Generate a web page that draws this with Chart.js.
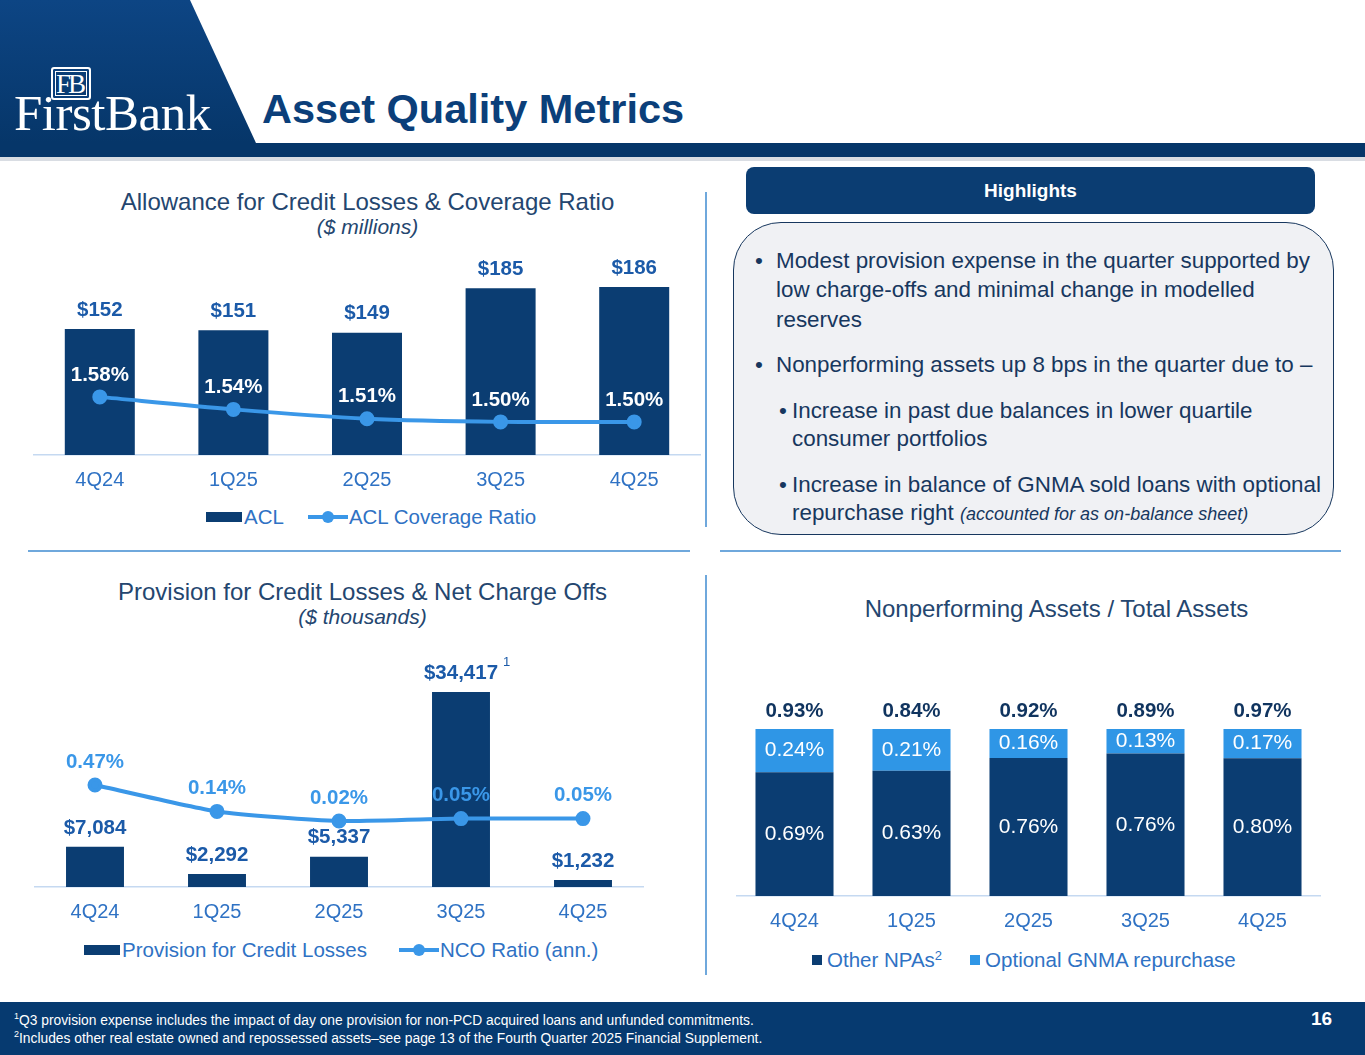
<!DOCTYPE html>
<html>
<head>
<meta charset="utf-8">
<script src="https://cdn.jsdelivr.net/npm/chart.js@4.4.1/dist/chart.umd.min.js"></script>
<style>
  html, body { margin:0; padding:0; }
  body { width:1365px; height:1055px; position:relative; overflow:hidden; background:#fff; font-family:"Liberation Sans", Arial, sans-serif; }
  .abs { position:absolute; }
  canvas { position:absolute; }
  .ctitle { position:absolute; color:#24466F; font-size:24px; text-align:center; white-space:nowrap; }
  .csub { position:absolute; color:#24466F; font-size:21px; font-style:italic; text-align:center; white-space:nowrap; }
  .legend { position:absolute; display:flex; align-items:center; color:#2F72C4; font-size:20.5px; white-space:nowrap; }
  .sw-bar { display:inline-block; width:36px; height:10px; background:#0B3D72; margin-right:2px; }
  .sw-sq { display:inline-block; width:10px; height:10px; margin-right:5px; }
  .sw-line { display:inline-block; position:relative; width:40px; height:4px; background:#3A97E8; margin-right:1px; }
  .sw-line:after { content:""; position:absolute; left:14px; top:-4px; width:12px; height:12px; border-radius:50%; background:#3A97E8; }
  .hl { position:absolute; color:#17375E; font-size:22.4px; line-height:26px; white-space:nowrap; }
  .sep { position:absolute; background:#6FA8DC; }
  .foot { position:absolute; color:#fff; font-size:13.8px; white-space:nowrap; }
</style>
</head>
<body>

<!-- header -->
<svg class="abs" style="left:0;top:0" width="1365" height="165">
  <defs>
    <linearGradient id="hg" x1="0" y1="0" x2="0" y2="1">
      <stop offset="0" stop-color="#0D4584"/>
      <stop offset="1" stop-color="#063669"/>
    </linearGradient>
  </defs>
  <polygon points="0,0 190,0 256,143 0,143" fill="url(#hg)"/>
  <rect x="0" y="143" width="1365" height="14" fill="#063669"/>
  <rect x="0" y="157" width="1365" height="4" fill="#D9DDE3"/>
</svg>
<div class="abs" style="left:51px;top:67px;width:36px;height:29px;border:2px solid #fff;border-radius:3px;box-shadow:inset 0 0 0 2px #0A3F7B, inset 0 0 0 3px #fff;color:#fff;font-family:'Liberation Serif','DejaVu Serif',serif;font-size:27px;line-height:30px;text-align:center;letter-spacing:-3px;text-indent:-3px;">FB</div>
<div class="abs" style="left:14px;top:88px;color:#fff;font-family:'Liberation Serif','DejaVu Serif',serif;font-size:51px;line-height:50px;letter-spacing:-0.5px;">FirstBank</div>
<div class="abs" style="left:262px;top:84px;color:#0B3F7A;font-size:41.5px;font-weight:bold;line-height:50px;">Asset Quality Metrics</div>

<!-- chart 1 -->
<div class="ctitle" style="left:40px;width:655px;top:188px;">Allowance for Credit Losses &amp; Coverage Ratio</div>
<div class="csub" style="left:40px;width:655px;top:215px;">($ millions)</div>
<canvas id="aclChart" width="668" height="255" style="left:33px;top:240px;"></canvas>
<div class="legend" style="left:206px;top:505px;"><span class="sw-bar"></span>ACL<span style="width:24px"></span><span class="sw-line"></span>ACL Coverage Ratio</div>

<!-- chart 2 -->
<div class="ctitle" style="left:40px;width:645px;top:578px;">Provision for Credit Losses &amp; Net Charge Offs</div>
<div class="csub" style="left:40px;width:645px;top:605px;">($ thousands)</div>
<canvas id="provChart" width="610" height="277" style="left:34px;top:650px;"></canvas>
<div class="legend" style="left:84px;top:938px;"><span class="sw-bar"></span>Provision for Credit Losses<span style="width:32px"></span><span class="sw-line"></span>NCO Ratio (ann.)</div>

<!-- chart 3 -->
<div class="ctitle" style="left:730px;width:655px;top:595px;transform:translateX(-1px);">Nonperforming Assets / Total Assets</div>
<canvas id="npaChart" width="585" height="247" style="left:736px;top:689px;"></canvas>
<div class="legend" style="left:812px;top:948px;"><span class="sw-sq" style="background:#0B3D72"></span>Other NPAs<sup style="font-size:13px;position:relative;top:-5px;">2</sup><span style="width:28px"></span><span class="sw-sq" style="background:#2F96E6"></span>Optional GNMA repurchase</div>

<!-- separators -->
<div class="sep" style="left:705px;top:192px;width:1.5px;height:335px;"></div>
<div class="sep" style="left:705px;top:575px;width:1.5px;height:400px;"></div>
<div class="sep" style="left:28px;top:550px;width:662px;height:1.5px;"></div>
<div class="sep" style="left:720px;top:550px;width:621px;height:1.5px;"></div>

<!-- highlights -->
<div class="abs" style="left:746px;top:167px;width:569px;height:47px;background:#0B3D72;border-radius:8px;color:#fff;font-weight:bold;font-size:19px;line-height:47px;text-align:center;">Highlights</div>
<div class="abs" style="left:733px;top:222px;width:599px;height:311px;background:#F0F1F4;border:1.5px solid #17375E;border-radius:48px;"></div>
<div class="hl" style="left:755px;top:248px;">•</div>
<div class="hl" style="left:776px;top:248px;">Modest provision expense in the quarter supported by</div>
<div class="hl" style="left:776px;top:277px;">low charge-offs and minimal change in modelled</div>
<div class="hl" style="left:776px;top:307px;">reserves</div>
<div class="hl" style="left:755px;top:352px;">•</div>
<div class="hl" style="left:776px;top:352px;">Nonperforming assets up 8 bps in the quarter due to –</div>
<div class="hl" style="left:779px;top:398px;">•</div>
<div class="hl" style="left:792px;top:398px;">Increase in past due balances in lower quartile</div>
<div class="hl" style="left:792px;top:426px;">consumer portfolios</div>
<div class="hl" style="left:779px;top:472px;">•</div>
<div class="hl" style="left:792px;top:472px;">Increase in balance of GNMA sold loans with optional</div>
<div class="hl" style="left:792px;top:500px;">repurchase right <i style="font-size:18px;">(accounted for as on-balance sheet)</i></div>

<!-- footer -->
<div class="abs" style="left:0;top:1002px;width:1365px;height:53px;background:#063A70;"></div>
<div class="foot" style="left:14px;top:1011px;"><sup style="font-size:9px;">1</sup>Q3 provision expense includes the impact of day one provision for non-PCD acquired loans and unfunded commitments.</div>
<div class="foot" style="left:14px;top:1029px;"><sup style="font-size:9px;">2</sup>Includes other real estate owned and repossessed assets–see page 13 of the Fourth Quarter 2025 Financial Supplement.</div>
<div class="abs" style="left:1311px;top:1008px;color:#fff;font-weight:bold;font-size:19px;">16</div>

<script>
const quarters = ['4Q24', '1Q25', '2Q25', '3Q25', '4Q25'];

// $ millions
const aclValues = [152, 151, 149, 185, 186];
const aclCoverage = [1.58, 1.54, 1.51, 1.50, 1.50];

// $ thousands
const provisionValues = [7084, 2292, 5337, 34417, 1232];
const ncoRatio = [0.47, 0.14, 0.02, 0.05, 0.05];

// % of total assets
const otherNpa = [0.69, 0.63, 0.76, 0.76, 0.80];
const gnmaRepurchase = [0.24, 0.21, 0.16, 0.13, 0.17];
const npaTotal = [0.93, 0.84, 0.92, 0.89, 0.97];

const NAVY = '#0B3D72';
const LIGHT = '#3A97E8';
const VALUE_BLUE = '#1B5AA8';
const FONT = '"Liberation Sans", Arial, sans-serif';

function xAxis() {
  return {
    grid: { display: false, drawTicks: false },
    border: { color: '#C5D9F1', width: 1.5 },
    ticks: { color: '#2F72C4', font: { family: FONT, size: 20 }, padding: 13 },
    afterFit: (scale) => { scale.height = 40; }
  };
}

function label(ctx, text, x, y, color, font) {
  ctx.save();
  ctx.font = font;
  ctx.fillStyle = color;
  ctx.textAlign = 'center';
  ctx.textBaseline = 'middle';
  ctx.fillText(text, x, y);
  ctx.restore();
}

const baseOptions = {
  responsive: false, animation: false,
  layout: { padding: 0, autoPadding: false },
  plugins: { legend: { display: false }, tooltip: { enabled: false } }
};

// Chart 1 - ACL
new Chart(document.getElementById('aclChart'), {
  type: 'bar',
  data: {
    labels: quarters,
    datasets: [
      { type: 'bar', label: 'ACL', data: aclValues, backgroundColor: NAVY, yAxisID: 'y', order: 2,
        categoryPercentage: 1, barPercentage: 0.524 },
      { type: 'line', label: 'ACL Coverage Ratio', data: aclCoverage, borderColor: LIGHT, backgroundColor: LIGHT,
        borderWidth: 4, pointRadius: 5.5, tension: 0.3, yAxisID: 'y2', order: 1 }
    ]
  },
  options: Object.assign({}, baseOptions, {
    scales: {
      x: xAxis(),
      y: { display: false, min: 50, max: 224 },
      y2: { display: false, min: 1.394, max: 2.082 }
    }
  }),
  plugins: [{
    id: 'aclLabels',
    afterDatasetsDraw(chart) {
      const ctx = chart.ctx;
      chart.getDatasetMeta(0).data.forEach((el, i) => {
        label(ctx, '$' + aclValues[i], el.x, el.y - 19, VALUE_BLUE, 'bold 20.5px ' + FONT);
      });
      chart.getDatasetMeta(1).data.forEach((el, i) => {
        label(ctx, aclCoverage[i].toFixed(2) + '%', el.x, el.y - 22, '#FFFFFF', 'bold 20.5px ' + FONT);
      });
    }
  }]
});

// Chart 2 - Provision & NCO
new Chart(document.getElementById('provChart'), {
  type: 'bar',
  data: {
    labels: quarters,
    datasets: [
      { type: 'bar', label: 'Provision for Credit Losses', data: provisionValues, backgroundColor: NAVY, yAxisID: 'y', order: 2,
        categoryPercentage: 1, barPercentage: 0.475 },
      { type: 'line', label: 'NCO Ratio (ann.)', data: ncoRatio, borderColor: LIGHT, backgroundColor: LIGHT,
        borderWidth: 4, pointRadius: 5.5, tension: 0.2, yAxisID: 'y2', order: 1 }
    ]
  },
  options: Object.assign({}, baseOptions, {
    scales: {
      x: xAxis(),
      y: { display: false, min: 0, max: 41830 },
      y2: { display: false, min: -0.805, max: 2.1575 }
    }
  }),
  plugins: [{
    id: 'provLabels',
    afterDatasetsDraw(chart) {
      const ctx = chart.ctx;
      chart.getDatasetMeta(0).data.forEach((el, i) => {
        const txt = '$' + provisionValues[i].toLocaleString('en-US');
        label(ctx, txt, el.x, el.y - 19, VALUE_BLUE, 'bold 20.5px ' + FONT);
        if (i === 3) {
          ctx.save();
          ctx.font = 'bold 20.5px ' + FONT;
          const w = ctx.measureText(txt).width;
          ctx.font = '13px ' + FONT;
          ctx.fillStyle = VALUE_BLUE;
          ctx.textBaseline = 'middle';
          ctx.fillText('1', el.x + w / 2 + 5, el.y - 30);
          ctx.restore();
        }
      });
      chart.getDatasetMeta(1).data.forEach((el, i) => {
        label(ctx, ncoRatio[i].toFixed(2) + '%', el.x, el.y - 23, LIGHT, 'bold 20.5px ' + FONT);
      });
    }
  }]
});

// Chart 3 - NPAs / total assets (100% stacked)
const otherShare = otherNpa.map((v, i) => v / npaTotal[i] * 100);
const gnmaShare = gnmaRepurchase.map((v, i) => v / npaTotal[i] * 100);

new Chart(document.getElementById('npaChart'), {
  type: 'bar',
  data: {
    labels: quarters,
    datasets: [
      { label: 'Other NPAs', data: otherShare, backgroundColor: NAVY, categoryPercentage: 1, barPercentage: 0.667 },
      { label: 'Optional GNMA repurchase', data: gnmaShare, backgroundColor: '#2F96E6', categoryPercentage: 1, barPercentage: 0.667 }
    ]
  },
  options: Object.assign({}, baseOptions, {
    scales: {
      x: Object.assign(xAxis(), { stacked: true }),
      y: { display: false, stacked: true, min: 0, max: 124 }
    }
  }),
  plugins: [{
    id: 'npaLabels',
    afterDatasetsDraw(chart) {
      const ctx = chart.ctx;
      const m0 = chart.getDatasetMeta(0).data;
      const m1 = chart.getDatasetMeta(1).data;
      m0.forEach((el, i) => {
        label(ctx, otherNpa[i].toFixed(2) + '%', el.x, (el.y + el.base) / 2, '#FFFFFF', '21px ' + FONT);
      });
      m1.forEach((el, i) => {
        label(ctx, gnmaRepurchase[i].toFixed(2) + '%', el.x, (el.y + el.base) / 2, '#FFFFFF', '21px ' + FONT);
        label(ctx, npaTotal[i].toFixed(2) + '%', el.x, el.y - 18, '#10345F', 'bold 20.5px ' + FONT);
      });
    }
  }]
});
</script>
</body>
</html>
